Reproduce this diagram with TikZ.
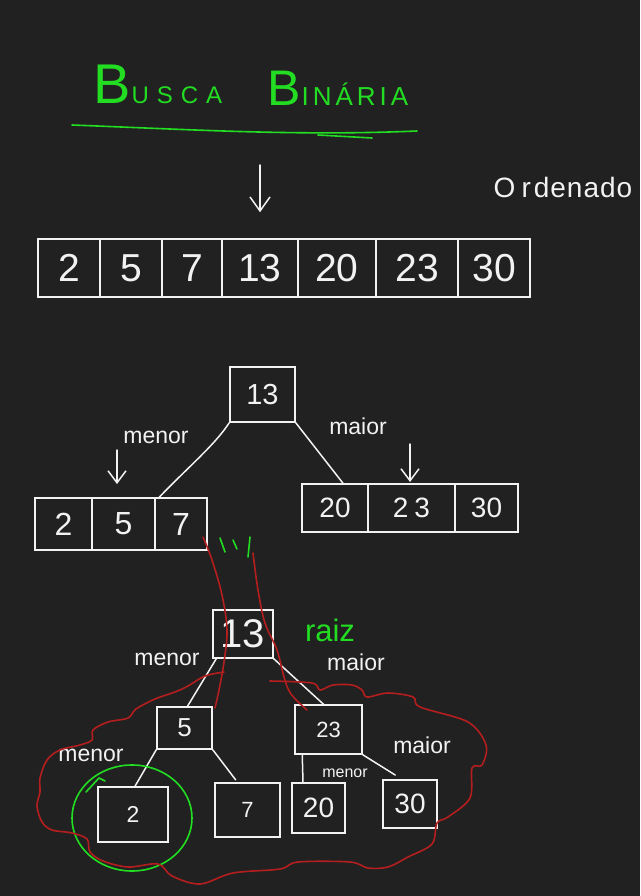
\documentclass[tikz,border=0pt]{standalone}
\usepackage{fontspec}
\setmainfont{Liberation Sans}
\usetikzlibrary{arrows.meta}
\definecolor{bg}{HTML}{212121}
\definecolor{chalk}{HTML}{F2F2F2}
\definecolor{hgreen}{HTML}{22DD22}
\definecolor{hred}{HTML}{B41E1E}
\begin{document}
\begin{tikzpicture}[x=1pt,y=-1pt,
  ink/.style={draw=chalk,line width=1.5pt,line cap=round,line join=round},
  gink/.style={draw=hgreen,line width=1.6pt,line cap=round,line join=round},
  rink/.style={draw=hred,line width=1.6pt,line cap=round,line join=round},
  cell/.style={draw=chalk,line width=1.5pt,rectangle,inner sep=0pt,text=chalk},
  fs/.style={font=\fontsize{#1}{#1}\selectfont},
  lbl/.style={text=chalk,inner sep=0pt,font=\fontsize{23}{23}\selectfont},
  vtip/.style={-{Straight Barb[length=14pt,width=20pt,line width=1.5pt]}}
]
\fill[bg] (0,0) rectangle (640,896);
\useasboundingbox (0,0) rectangle (640,896);

% ---------- title ----------
\node[anchor=base west,inner sep=0pt,text=hgreen] (tbusca) at (93,104)
  {{\fontsize{56}{56}\selectfont B}\hspace{1pt}{\fontsize{24}{24}\selectfont U\hspace{8pt}S\hspace{8pt}C\hspace{8pt}A}};
\node[anchor=base west,inner sep=0pt,text=hgreen] (tbin) at (267,106)
  {{\fontsize{50}{50}\selectfont B}\hspace{1pt}{\fontsize{26}{26}\selectfont I\hspace{4pt}N\hspace{4pt}Á\hspace{4pt}R\hspace{4pt}I\hspace{4pt}A}};
\draw[gink] (72,125) .. controls (200,130) and (300,136) .. (417,131);
\draw[gink] (318,135) -- (372,138);

% ---------- sorted array ----------
\node[text=chalk,inner sep=0pt,fs=28] (ord) at (563,187) {O\hspace{6pt}r\hspace{3pt}d\hspace{1pt}e\hspace{1pt}n\hspace{1pt}a\hspace{1pt}d\hspace{1pt}o};
\node[cell,fs=39,minimum width=62pt,minimum height=58pt] (a1) at (69,268) {2};
\node[cell,fs=39,minimum width=62pt,minimum height=58pt] (a2) at (131,268) {5};
\node[cell,fs=39,minimum width=60pt,minimum height=58pt] (a3) at (192,268) {7};
\node[cell,fs=39,minimum width=76pt,minimum height=58pt] (a4) at (260,268) {13};
\node[cell,fs=39,minimum width=78pt,minimum height=58pt] (a5) at (337,268) {20};
\node[cell,fs=39,minimum width=82pt,minimum height=58pt] (a6) at (417,268) {23};
\node[cell,fs=39,minimum width=72pt,minimum height=58pt] (a7) at (494,268) {30};
\coordinate (ptop) at (260,165);
\draw[ink,vtip] (ptop) -- ([yshift=26pt]a4.north);

% ---------- first split ----------
\node[cell,fs=29,minimum width=65pt,minimum height=55pt] (root1) at (262.5,394.5) {13};
\node[cell,fs=32,minimum width=57pt,minimum height=52pt] (l1) at (63.5,524) {2};
\node[cell,fs=32,minimum width=63pt,minimum height=52pt] (l2) at (123.5,524) {5};
\node[cell,fs=32,minimum width=52pt,minimum height=52pt] (l3) at (181,524) {7};
\node[cell,fs=28,minimum width=66pt,minimum height=48pt] (r1) at (335,508) {20};
\node[cell,fs=28,minimum width=87pt,minimum height=48pt] (r2) at (411.5,508) {2\hspace{6pt}3};
\node[cell,fs=28,minimum width=63pt,minimum height=48pt] (r3) at (486.5,508) {30};
\draw[ink] (root1.south west) .. controls (215,445) and (185,470) .. ([xshift=5pt]l3.north west);
\draw[ink] (root1.south east) -- ([xshift=8pt]r1.north);
\node[lbl] (m1) at (156,437) {menor};
\node[lbl] (x1) at (358,426) {maior};
\coordinate (m1a) at (117,450);
\coordinate (m1b) at (117,484);
\coordinate (x1a) at (410,444);
\coordinate (x1b) at (410,482);
\draw[ink,-{Straight Barb[length=12pt,width=18pt,line width=1.5pt]}] (m1a) -- (m1b);
\draw[ink,-{Straight Barb[length=12pt,width=18pt,line width=1.5pt]}] (x1a) -- (x1b);

% green ticks
\draw[gink] (220,538) -- (225,552);
\draw[gink] (233,540) -- (237,549);
\draw[gink] (250,537) -- (248,557);

% ---------- tree ----------
\node[cell,fs=40,minimum width=60pt,minimum height=48pt] (t13) at (243,634) {13};
\node[text=hgreen,inner sep=0pt,fs=31] (raiz) at (330,630) {raiz};
\node[cell,fs=26,minimum width=55pt,minimum height=42pt] (t5) at (184.5,728) {5};
\node[cell,fs=22,minimum width=67pt,minimum height=49pt] (t23) at (328.5,729.5) {23};
\node[cell,fs=23,minimum width=70pt,minimum height=55pt] (t2) at (133,814.5) {2};
\node[cell,fs=22,minimum width=65pt,minimum height=54pt] (t7) at (247.5,810) {7};
\node[cell,fs=28,minimum width=53pt,minimum height=50pt] (t20) at (318.5,808) {20};
\node[cell,fs=28,minimum width=54pt,minimum height=48pt] (t30) at (410,804) {30};
\draw[ink] ([xshift=4pt]t13.south west) -- ([xshift=3pt]t5.north);
\draw[ink] (t13.south east) -- ([xshift=-5pt]t23.north);
\draw[ink] (t5.south west) -- ([xshift=2pt]t2.north);
\draw[ink,shorten >=3pt] (t5.south east) -- ([xshift=-10pt]t7.north);
\draw[ink] ([xshift=8pt]t23.south west) -- ([xshift=-15.5pt]t20.north);
\draw[ink,shorten >=8pt] (t23.south east) -- ([xshift=-8pt]t30.north);
\node[lbl] (m2) at (167,659) {menor};
\node[lbl] (x2) at (356,662) {maior};
\node[lbl] (m3) at (91,755) {menor};
\node[lbl,fs=16] (m4) at (345,773) {menor};
\node[lbl] (x3) at (422,745) {maior};

% green circle around 2
\draw[gink] (132,818) ellipse [x radius=60, y radius=53];
\draw[gink] (86,792) -- (99,778) -- (105,781);

% red path lines
\draw[rink] plot[smooth,tension=0.6] coordinates {(203,537) (212,560) (222,595) (227,630) (224,662) (219,690) (215,708)};
\draw[rink] plot[smooth,tension=0.6] coordinates {(253,553) (258,590) (265,623) (277,650) (284,677) (291,694) (307,710)};

% red cloud
\draw[rink] plot[smooth,tension=0.55] coordinates {
 (224,672) (205,676) (188,686) (175,692) (155,699) (136,709) (128,718) (108,722)
 (93,730) (92,740) (80,745) (60,750) (47,760) (40,778) (40,792) (37,806) (42,822)
 (52,830) (72,833) (87,839) (90,852) (103,861) (128,867) (158,864) (172,876)
 (200,884) (233,873) (280,869) (298,862) (350,862) (368,868) (388,867) (408,857)
 (432,844) (437,823) (448,817) (470,798) (472,768) (482,765) (486,745) (468,722)
 (420,707) (413,697) (388,693) (367,697) (362,690) (352,685) (333,685) (320,690)
 (312,683) (270,681)};
\end{tikzpicture}
\end{document}
